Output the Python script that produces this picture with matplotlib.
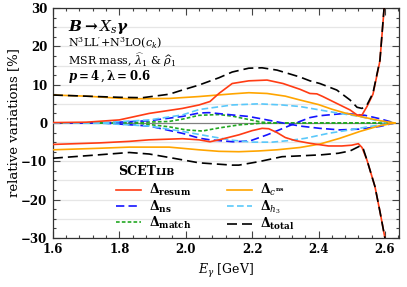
import numpy as np
import matplotlib
matplotlib.use("Agg")
import matplotlib.pyplot as plt
from matplotlib.ticker import MultipleLocator
from matplotlib.lines import Line2D

plt.rcParams['font.family'] = ['DejaVu Serif']
plt.rcParams['font.weight'] = 'bold'
plt.rcParams['mathtext.fontset'] = 'custom'
plt.rcParams['mathtext.rm'] = 'DejaVu Serif:weight=normal'
plt.rcParams['mathtext.it'] = 'DejaVu Serif:style=italic:weight=normal'
plt.rcParams['mathtext.bf'] = 'DejaVu Serif:weight=bold'
plt.rcParams['mathtext.bfit'] = 'DejaVu Serif:style=italic:weight=bold'

# ---------------- data ----------------
x_tot_up = [1.60, 1.70, 1.80, 1.87, 1.95, 1.99, 2.04, 2.10, 2.14, 2.19, 2.23, 2.275, 2.344, 2.374, 2.404, 2.455, 2.495, 2.516, 2.531, 2.546, 2.564, 2.585, 2.597, 2.603]
y_tot_up = [7.3, 7.0, 6.7, 6.6, 7.5, 8.6, 9.9, 11.8, 13.3, 14.3, 14.4, 13.8, 12.0, 11.0, 10.3, 8.6, 6.0, 4.1, 3.8, 4.7, 7.8, 16.4, 29.5, 34.0]
x_tot_dn = [1.60, 1.74, 1.83, 1.89, 1.95, 2.04, 2.14, 2.16, 2.22, 2.29, 2.34, 2.41, 2.46, 2.495, 2.525, 2.535, 2.546, 2.570, 2.585, 2.600, 2.605]
y_tot_dn = [-9.2, -8.3, -7.7, -8.1, -9.0, -10.4, -11.0, -11.0, -10.1, -8.8, -8.6, -8.3, -7.9, -7.3, -6.0, -6.8, -9.7, -16.6, -23.1, -30.0, -34.0]

x_res_up = [1.60, 1.70, 1.80, 1.89, 1.99, 2.04, 2.073, 2.10, 2.14, 2.19, 2.245, 2.293, 2.344, 2.374, 2.395, 2.413, 2.455, 2.495, 2.516, 2.531, 2.546, 2.564, 2.585, 2.597, 2.603]
y_res_up = [0.1, 0.2, 0.8, 2.5, 3.8, 4.7, 5.6, 7.7, 10.3, 11.0, 11.2, 10.3, 8.8, 7.7, 7.6, 6.9, 5.1, 3.4, 2.1, 2.1, 4.3, 7.5, 16.2, 29.3, 34.0]
x_res_dn = [1.60, 1.74, 1.83, 1.89, 1.99, 2.04, 2.073, 2.10, 2.16, 2.20, 2.23, 2.25, 2.275, 2.30, 2.33, 2.374, 2.43, 2.47, 2.50, 2.52, 2.531, 2.546, 2.570, 2.585, 2.600, 2.605]
y_res_dn = [-5.6, -5.2, -4.8, -4.4, -4.1, -4.4, -4.9, -4.4, -3.1, -2.0, -1.4, -1.5, -2.5, -3.8, -4.6, -5.3, -6.0, -6.0, -5.8, -5.4, -6.4, -9.7, -16.6, -23.1, -30.0, -34.0]

x_cns_up = [1.60, 1.70, 1.83, 1.95, 2.04, 2.14, 2.19, 2.245, 2.30, 2.344, 2.40, 2.44, 2.48, 2.525, 2.585, 2.63]
y_cns_up = [7.3, 7.0, 6.3, 6.4, 6.9, 7.6, 7.9, 7.7, 7.0, 6.0, 4.8, 3.6, 2.6, 1.7, 0.6, 0.0]
x_cns_dn = [1.60, 1.74, 1.83, 1.95, 2.04, 2.10, 2.16, 2.22, 2.275, 2.344, 2.404, 2.464, 2.525, 2.585, 2.63]
y_cns_dn = [-7.0, -6.6, -6.3, -6.3, -7.0, -7.4, -7.5, -7.3, -7.0, -6.4, -5.5, -4.0, -2.2, -0.7, 0.0]

x_h3_up = [1.60, 1.75, 1.89, 1.99, 2.04, 2.073, 2.14, 2.22, 2.29, 2.344, 2.404, 2.464, 2.525, 2.585, 2.63]
y_h3_up = [0.0, 0.1, 0.8, 2.1, 3.5, 3.9, 4.7, 5.0, 4.7, 4.3, 3.4, 2.5, 1.7, 0.4, 0.0]
x_h3_dn = [1.60, 1.75, 1.89, 1.99, 2.073, 2.14, 2.20, 2.26, 2.31, 2.36, 2.43, 2.495, 2.555, 2.63]
y_h3_dn = [0.0, -0.1, -0.8, -2.2, -3.5, -4.5, -5.0, -5.0, -4.6, -4.0, -2.7, -1.8, -0.9, 0.0]

x_ns_a = [1.60, 1.75, 1.89, 1.99, 2.04, 2.07, 2.14, 2.19, 2.245, 2.293, 2.344, 2.404, 2.464, 2.525, 2.585, 2.63]
y_ns_a = [0.0, 0.0, 0.6, 1.7, 2.6, 2.7, 2.1, 1.7, 0.8, 0.0, -0.8, -1.4, -1.8, -1.6, -0.9, 0.0]
x_ns_b = [1.60, 1.75, 1.89, 1.99, 2.043, 2.073, 2.142, 2.193, 2.245, 2.293, 2.344, 2.374, 2.404, 2.48, 2.54, 2.585, 2.63]
y_ns_b = [0.0, 0.0, -0.8, -2.7, -4.0, -4.4, -4.9, -4.7, -3.1, -1.4, 0.4, 1.4, 1.9, 2.5, 2.0, 1.1, 0.0]

x_match_a = [1.60, 1.80, 1.95, 1.99, 2.04, 2.10, 2.14, 2.19, 2.23, 2.27, 2.63]
y_match_a = [0.0, 0.0, 0.4, 1.0, 2.0, 2.2, 1.8, 0.9, 0.2, 0.0, 0.0]
x_match_b = [1.60, 1.85, 1.95, 2.00, 2.05, 2.10, 2.16, 2.22, 2.27, 2.63]
y_match_b = [0.0, 0.0, -1.0, -1.8, -2.1, -1.3, -0.5, -0.1, 0.0, 0.0]

x_ticks = [1.6, 1.8, 2.0, 2.2, 2.4, 2.6]
y_ticks = [-30, -20, -10, 0, 10, 20, 30]

# ---------------- styles ----------------
c_res = '#ff3c14'
c_ns = '#1414ff'
c_match = '#22a822'
c_cns = '#ffa500'
c_h3 = '#5ac8fa'
c_tot = 'black'

fig = plt.figure(figsize=(4.07, 2.87), dpi=100)
ax = fig.add_axes([0.130, 0.171, 0.850, 0.801])

for yy in range(-30, 31, 5):
    if yy == 0:
        ax.axhline(0, color='#808080', lw=0.9, zorder=0)
    else:
        ax.axhline(yy, color='#e6e6e6', lw=0.9, zorder=0)

lw = 1.2
ax.plot(x_match_a, y_match_a, color=c_match, lw=lw, dashes=(2.2, 1.3), zorder=3)
ax.plot(x_match_b, y_match_b, color=c_match, lw=lw, dashes=(2.2, 1.3), zorder=3)
ax.plot(x_ns_a, y_ns_a, color=c_ns, lw=lw, dashes=(5, 2.5), zorder=3)
ax.plot(x_ns_b, y_ns_b, color=c_ns, lw=lw, dashes=(5, 2.5), zorder=3)
ax.plot(x_h3_up, y_h3_up, color=c_h3, lw=lw, dashes=(4, 2), zorder=3)
ax.plot(x_h3_dn, y_h3_dn, color=c_h3, lw=lw, dashes=(4, 2), zorder=3)
ax.plot(x_cns_up, y_cns_up, color=c_cns, lw=lw, zorder=3)
ax.plot(x_cns_dn, y_cns_dn, color=c_cns, lw=lw, zorder=3)
ax.plot(x_res_up, y_res_up, color=c_res, lw=lw, zorder=4)
ax.plot(x_res_dn, y_res_dn, color=c_res, lw=lw, zorder=4)
ax.plot(x_tot_up, y_tot_up, color=c_tot, lw=lw, dashes=(6, 3), zorder=5)
ax.plot(x_tot_dn, y_tot_dn, color=c_tot, lw=lw, dashes=(6, 3), zorder=5)

ax.set_xlim(1.6, 2.642)
ax.set_ylim(-30, 30)
ax.set_xticks(x_ticks)
ax.set_yticks(y_ticks)
ax.set_xticklabels(['%.1f' % v for v in x_ticks])
ax.set_yticklabels(['\u2212%d' % -v if v < 0 else '%d' % v for v in y_ticks])
ax.xaxis.set_minor_locator(MultipleLocator(0.04))
ax.yaxis.set_minor_locator(MultipleLocator(2.5))
ax.tick_params(which='both', direction='in', top=True, right=True, labelsize=8.5, width=0.8, color='#444444')
ax.tick_params(which='major', length=5, pad=4)
ax.tick_params(which='minor', length=2.5)
for s in ax.spines.values():
    s.set_linewidth(0.9)
    s.set_color('#333333')

ax.set_xlabel(r'$\boldsymbol{E_\gamma}$ [GeV]', fontsize=9, labelpad=4)
ax.set_ylabel('relative variations [%]', fontsize=9.5, labelpad=1)

tx = 0.043
ax.text(tx, 0.917, r'$\boldsymbol{B \to X_s \gamma}$', transform=ax.transAxes, fontsize=11, va='center')
ax.text(tx, 0.848, r'N$^3$LL$^\prime$+N$^3$LO($c_k$)', transform=ax.transAxes, fontsize=8, fontweight='normal', va='center')
ax.text(tx, 0.774, r'MSR mass, $\widehat{\lambda}_1$ & $\widehat{\rho}_1$', transform=ax.transAxes, fontsize=8, fontweight='normal', va='center')
ax.text(tx, 0.704, r'$\boldsymbol{p=4\,,\lambda=0.6}$', transform=ax.transAxes, fontsize=8.5, va='center')

t1 = ax.text(0.188, 0.287, 'SCET', transform=ax.transAxes, fontsize=9, va='center')
ax.annotate('LIB', xy=(1, 0.12), xycoords=t1, fontsize=6.8, va='bottom', ha='left')

h = [Line2D([], [], color=c_res, lw=lw),
     Line2D([], [], color=c_ns, lw=lw, dashes=(5, 2.5)),
     Line2D([], [], color=c_match, lw=lw, dashes=(2.2, 1.3)),
     Line2D([], [], color=c_cns, lw=lw),
     Line2D([], [], color=c_h3, lw=lw, dashes=(4, 2)),
     Line2D([], [], color=c_tot, lw=lw, dashes=(6, 3))]
labels = [r'$\mathbf{\Delta}_{\mathbf{resum}}$', r'$\mathbf{\Delta}_{\mathbf{ns}}$', r'$\mathbf{\Delta}_{\mathbf{match}}$',
          r'$\mathbf{\Delta}_{c^{\mathbf{ns}}}$', r'$\mathbf{\Delta}_{\boldsymbol{h_3}}$', r'$\mathbf{\Delta}_{\mathbf{total}}$']
ax.legend(h, labels, ncol=2, loc='upper left', bbox_to_anchor=(0.165, 0.27), frameon=False,
          fontsize=9, handlelength=2.0, columnspacing=2.9, labelspacing=0.02, borderpad=0, handletextpad=0.6)

fig.savefig('out.png', dpi=100)
